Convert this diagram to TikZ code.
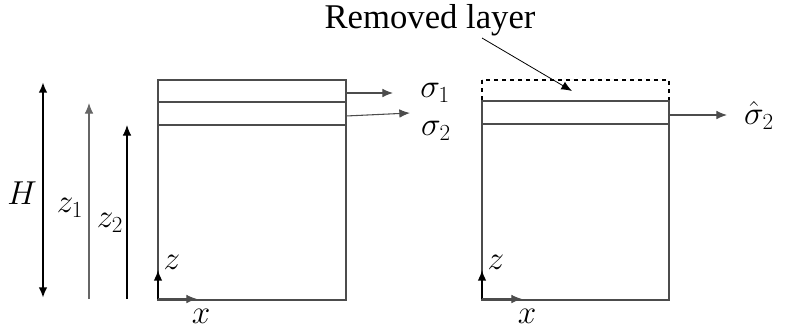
\documentclass[tikz,border=0pt]{standalone}
\usepackage{fontspec}
\setmainfont{Liberation Serif}
\usetikzlibrary{arrows.meta,positioning}

\begin{document}
\begin{tikzpicture}[x=0.75pt,y=-0.75pt,>={Latex[length=8pt,width=6.5pt]},
  every node/.style={inner sep=0pt,font=\fontsize{25}{30}\selectfont},
  layer/.style={draw=black!70,line width=0.8pt},
  force/.style={->,draw=black!70,line width=0.8pt}]
  \useasboundingbox (0,0) rectangle (785,333);
  % left sample: layers
  \draw[layer] (158,80) rectangle (346,300);
  \draw[layer] (158,102) -- (346,102);
  \draw[layer] (158,125) -- (346,125);
  % right sample: top layer removed (dashed)
  \draw[dashed,line width=1pt] (482,80) rectangle (669,101);
  \draw[layer] (482,101) rectangle (669,300);
  \draw[layer] (482,124) -- (669,124);
  % heights
  \coordinate (Htop) at (43,82); \coordinate (Hbot) at (43,298);
  \draw[<->,line width=2pt] (Htop) -- (Hbot);
  \node (H) at (22,193) {$H$};
  \coordinate (zatop) at (89,103); \coordinate (zabot) at (89,299);
  \draw[->,draw=black!60,line width=0.8pt] (zabot) -- (zatop);
  \node (z1) at (70,208) {$z_1$};
  \coordinate (zbtop) at (127,125); \coordinate (zbbot) at (127,299);
  \draw[->,line width=0.8pt] (zbbot) -- (zbtop);
  \node (z2) at (110,223) {$z_2$};
  % stresses
  \coordinate (s1from) at (346,93); \coordinate (s1tip) at (393,93);
  \draw[force] (s1from) -- (s1tip);
  \node[right=27 of s1tip] (s1) {$\sigma_1$};
  \coordinate (s2from) at (346,116); \coordinate (s2tip) at (410,113);
  \draw[force] (s2from) -- (s2tip);
  \node (s2) at (436,131) {$\sigma_2$};
  \coordinate (s3from) at (669,115); \coordinate (s3tip) at (727,115);
  \draw[force] (s3from) -- (s3tip);
  \node (s3) at (759,115) {$\hat{\sigma}_2$};
  % removed layer
  \node[font=\fontsize{26}{30}\selectfont] (rem) at (430,20) {Removed layer};
  \coordinate (remfrom) at (482,38); \coordinate (remtip) at (572,91);
  \draw[->,line width=0.6pt] (remfrom) -- (remtip);
  % local axes
  \coordinate (o1) at (158,299);
  \coordinate (o1z) at (158,270); \coordinate (o1x) at (197,299);
  \draw[->,line width=1.2pt] (o1) -- (o1z);
  \draw[->,draw=black!70,line width=0.8pt] (o1) -- (o1x);
  \node (z1lab) at (172,262) {$z$};
  \node (x1lab) at (201,316) {$x$};
  \coordinate (o2) at (482,299);
  \coordinate (o2z) at (482,270); \coordinate (o2x) at (522,299);
  \draw[->,line width=1.2pt] (o2) -- (o2z);
  \draw[->,draw=black!70,line width=0.8pt] (o2) -- (o2x);
  \node (z2lab) at (496,262) {$z$};
  \node (x2lab) at (527,316) {$x$};
\end{tikzpicture}
\end{document}
